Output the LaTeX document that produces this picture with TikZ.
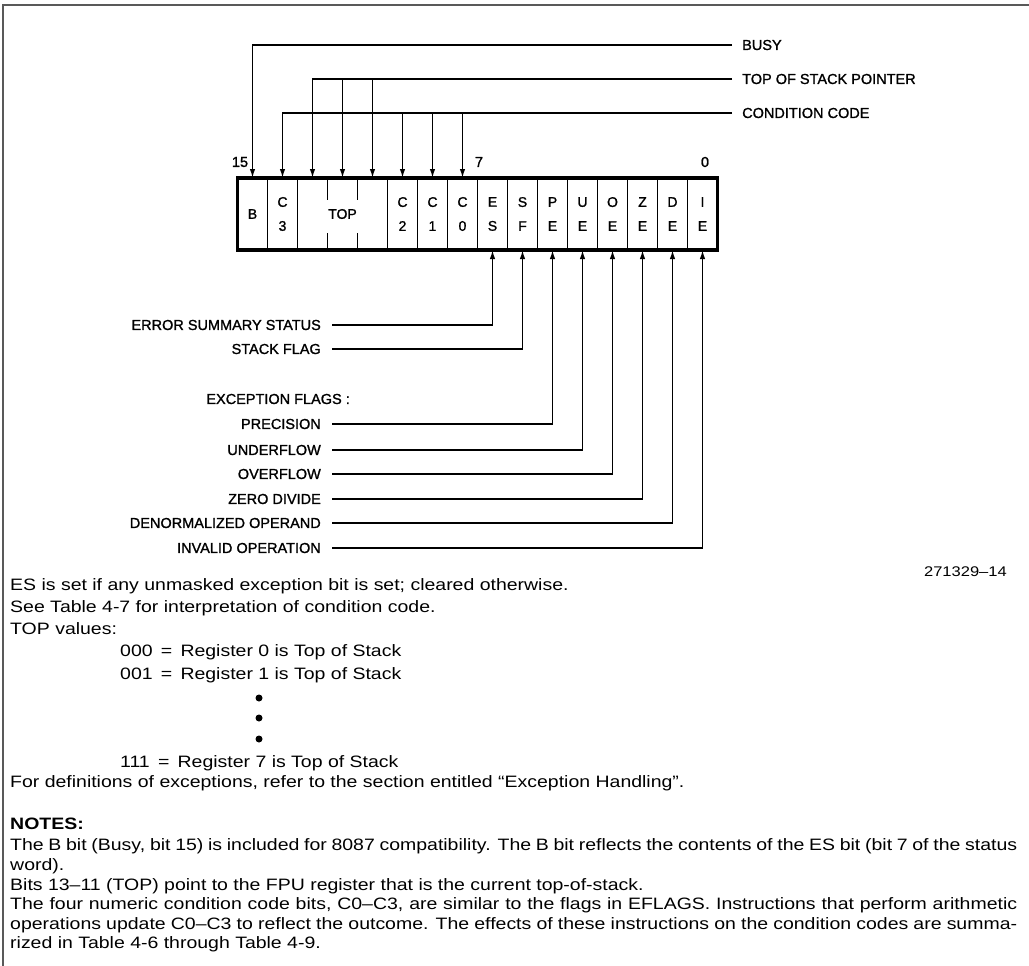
\documentclass[tikz,border=0pt]{standalone}
\usepackage{fontspec}
\setmainfont{Liberation Sans}
\newfontfamily\notefont{Liberation Sans}[FakeStretch=1.18]
\newfontfamily\letterfont{Liberation Sans}[FakeBold=1.3]
\usetikzlibrary{arrows.meta,positioning}
\begin{document}
\begin{tikzpicture}[x=1pt,y=-1pt,>={Latex[length=9pt,width=5.5pt]},
  lbl/.style={font=\letterfont\fontsize{14.5}{16}\selectfont,inner sep=0pt},
  bitcell/.style={draw,line width=1.8pt,minimum height=72pt,inner sep=0pt,outer sep=0pt,align=center,font=\letterfont\fontsize{14}{24}\selectfont},
  wire/.style={line width=1.5pt},
  note/.style={font=\notefont\fontsize{16.5}{20}\selectfont,inner sep=0pt,anchor=base west}]
\useasboundingbox (0,0) rectangle (1029,966);
\def\bw{30}     % bit width
\def\rx{237.5}  % left edge of the register
\def\ry{214}    % middle of the register
\def\pw{1007pt} % width of a justified note line
% page frame, top and left only
\draw[line width=2.5pt,black!65] (3,966) -- (3,5) -- (1029,5);
% the register: name / text / first bit / bits
\foreach \n/\t/\s/\w in {B/B/0/1,C3/{C\\3}/1/1,TOP/TOP/2/3,C2/{C\\2}/5/1,C1/{C\\1}/6/1,C0/{C\\0}/7/1,
    ES/{E\\S}/8/1,SF/{S\\F}/9/1,PE/{P\\E}/10/1,UE/{U\\E}/11/1,OE/{O\\E}/12/1,ZE/{Z\\E}/13/1,DE/{D\\E}/14/1,IE/{I\\E}/15/1}
  \node[bitcell,minimum width={\w*\bw*1pt},anchor=west] (\n) at ({\rx+\s*\bw},\ry) {\t};
\draw[line width=3.5pt] (B.north west) rectangle (IE.south east);
% TOP field: short ticks between its three bits
\foreach \d in {-0.5,0.5}{
  \draw[line width=1.8pt] ([xshift={\d*\bw*1pt}]TOP.north) -- ++(0,22);
  \draw[line width=1.8pt] ([xshift={\d*\bw*1pt}]TOP.south) -- ++(0,-17);
}
\coordinate (t13) at ([xshift=-\bw pt]TOP.north);
\coordinate (t12) at (TOP.north);
\coordinate (t11) at ([xshift=\bw pt]TOP.north);
% bit numbers
\node[lbl] (n15) at (240,162) {15};
\node[lbl] (n7) at (479,162) {7};
\node[lbl] (n0) at (705,162) {0};
% fields above
\node[lbl,anchor=west] (busy) at (742,45) {BUSY};
\node[lbl,anchor=west] (tos) at (742,79) {TOP OF STACK POINTER};
\node[lbl,anchor=west] (cc) at (742,113) {CONDITION CODE};
\draw[wire,->] ([xshift=-10pt]busy.west) -| (B.north);
\draw[wire,->] ([xshift=-10pt]tos.west) -| (t13);
\foreach \t in {t12,t11} \draw[wire,->] (\t |- tos.west) -- (\t);
\draw[wire,->] ([xshift=-10pt]cc.west) -| (C3.north);
\foreach \c in {C2,C1,C0} \draw[wire,->] (\c.north |- cc.west) -- (\c.north);
% flags below
\foreach \n/\t/\y in {ES/ERROR SUMMARY STATUS/325,SF/STACK FLAG/349,PE/PRECISION/424,UE/UNDERFLOW/450,
    OE/OVERFLOW/474,ZE/ZERO DIVIDE/499,DE/DENORMALIZED OPERAND/523,IE/INVALID OPERATION/548}{
  \node[lbl,anchor=east] (l\n) at (321,\y) {\t};
  \draw[wire,->] ([xshift=11pt]l\n.east) -| (\n.south);
}
\node[lbl,anchor=east] (lexc) at (350,399) {EXCEPTION FLAGS :};
\node[font=\notefont\fontsize{14}{16}\selectfont,inner sep=0pt,anchor=east] (fignum) at (1007,572) {271329–14};
% notes under the figure
\node[note] (esnote) at (10,590) {ES is set if any unmasked exception bit is set; cleared otherwise.};
\node[note] (seenote) at (10,612) {See Table 4-7 for interpretation of condition code.};
\node[note] (topvals) at (10,634) {TOP values:};
\node[note] (val0) at (120,656) {000\enspace=\enspace Register 0 is Top of Stack};
\node[note] (val1) at (120,679) {001\enspace=\enspace Register 1 is Top of Stack};
\foreach \k/\y in {1/698,2/718,3/739}
  \node[circle,fill,inner sep=0pt,minimum size=7pt] (dot\k) at (259,\y) {};
\node[note] (val7) at (120,767) {111\enspace=\enspace Register 7 is Top of Stack};
\node[note] (defnote) at (10,787) {For definitions of exceptions, refer to the section entitled “Exception Handling”.};
\node[note,font=\notefont\bfseries\fontsize{16.5}{20}\selectfont] (notes) at (10,829) {NOTES:};
\node[note] (nb1) at (10,850) {\makebox[\pw][s]{The B bit (Busy, bit 15) is included for 8087 compatibility. The B bit reflects the contents of the ES bit (bit 7 of the status}};
\node[note] (nb2) at (10,870) {word).};
\node[note] (nb3) at (10,890) {Bits 13–11 (TOP) point to the FPU register that is the current top-of-stack.};
\node[note] (nb4) at (10,909) {\makebox[\pw][s]{The four numeric condition code bits, C0–C3, are similar to the flags in EFLAGS. Instructions that perform arithmetic}};
\node[note] (nb5) at (10,929) {\makebox[\pw][s]{operations update C0–C3 to reflect the outcome. The effects of these instructions on the condition codes are summa-}};
\node[note] (nb6) at (10,948) {rized in Table 4-6 through Table 4-9.};
\end{tikzpicture}
\end{document}
